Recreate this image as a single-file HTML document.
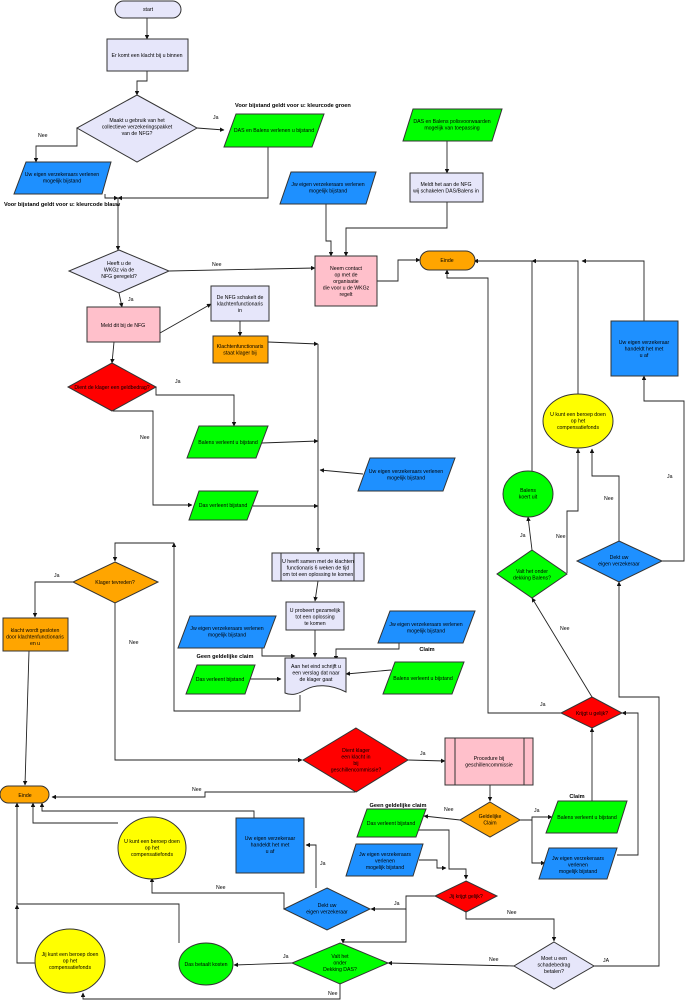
<!DOCTYPE html>
<html><head><meta charset="utf-8"><style>
html,body{margin:0;padding:0;background:#fff;}
svg{display:block;}
text{font-family:"Liberation Sans",sans-serif;font-size:5.2px;fill:#000;}
.b{font-weight:bold;font-size:5.6px;}
.s{stroke:#333;stroke-width:1;}
.l{fill:none;stroke:#222;stroke-width:0.9;}
</style></head><body>
<svg width="686" height="1000" viewBox="0 0 686 1000" xmlns="http://www.w3.org/2000/svg">
<defs><marker id="a" viewBox="0 0 10 10" refX="9" refY="5" markerWidth="5" markerHeight="5" orient="auto"><path d="M0,0L10,5L0,10z" fill="#111"/></marker></defs>

<g class="l" marker-end="url(#a)">
<path d="M147,18V39"/>
<path d="M147,71V81H137V95"/>
<path d="M197,128L224,130"/>
<path d="M77,128V146H36V162"/>
<path d="M268,147V198H118"/>
<path d="M105,194V198H118"/>
<path d="M118,198V250"/>
<path d="M169,271L315,268"/>
<path d="M326,204V241H331V256"/>
<path d="M447,141V173"/>
<path d="M447,202V228H346V256"/>
<path d="M377,281H398V260H420"/>
<path d="M644,321V261H582"/>
<path d="M578,394V261H532"/>
<path d="M532,472V261H474"/>
<path d="M562,713H488V278H447V270"/>
<path d="M119,293L122,307"/>
<path d="M160,333L211,304"/>
<path d="M240,321V336"/>
<path d="M268,342L318,344"/>
<path d="M318,344V552"/>
<path d="M114,342L112,363"/>
<path d="M156,387V395H234V426"/>
<path d="M262,443L318,441"/>
<path d="M113,411H153V505H192"/>
<path d="M253,506H318"/>
<path d="M363,474L320,470"/>
<path d="M318,581L315,601"/>
<path d="M315,630V657"/>
<path d="M262,632V656H295"/>
<path d="M250,679L281,679"/>
<path d="M399,643V649H336V660"/>
<path d="M391,670L346,674"/>
<path d="M300,695V711H174V543"/>
<path d="M174,543H115V561"/>
<path d="M73,582H35V617"/>
<path d="M29,651L25,785"/>
<path d="M115,603V760H302"/>
<path d="M408,760L445,761"/>
<path d="M490,785V801"/>
<path d="M460,820L424,816"/>
<path d="M520,820H532V817H552"/>
<path d="M532,820V863H545"/>
<path d="M592,801V728"/>
<path d="M617,855H638V713H622"/>
<path d="M592,697L532,598"/>
<path d="M532,550L528,517"/>
<path d="M567,573V511H578V449"/>
<path d="M619,541V476H592V449"/>
<path d="M662,561H684V401H644V376"/>
<path d="M594,966H659V697H619V582"/>
<path d="M417,830H449V869H466V879"/>
<path d="M419,860H437V868H446"/>
<path d="M435,896H406V909H371"/>
<path d="M406,909V942H343V943"/>
<path d="M466,912V919H554V941"/>
<path d="M514,966L388,963"/>
<path d="M292,963L234,965"/>
<path d="M340,984V999H83V993"/>
<path d="M179,943V904H17V803"/>
<path d="M35,963H17V905"/>
<path d="M316,888V845H306"/>
<path d="M254,818V811H42V803"/>
<path d="M118,823H33V803"/>
<path d="M284,909V893H152V878"/>
<path d="M355,792H205V797H52"/>
</g>

<g class="s">
<rect x="115" y="1" width="66" height="17" rx="8.5" fill="#E6E6FA"/>
<rect x="107" y="39" width="81" height="32" fill="#E6E6FA"/>
<polygon points="137,95 197,128 137,162 77,128" fill="#E6E6FA"/>
<polygon points="236,114 324,114 312,147 224,147" fill="#00FF00"/>
<polygon points="26,162 111,162 102,194 14,194" fill="#1E90FF"/>
<polygon points="119,250 169,271 119,293 69,271" fill="#E6E6FA"/>
<polygon points="291,172 376,172 366,204 280,204" fill="#1E90FF"/>
<polygon points="413,109 502,109 492,141 403,141" fill="#00FF00"/>
<rect x="410" y="173" width="73" height="29" fill="#E6E6FA"/>
<rect x="315" y="256" width="62" height="50" fill="#FFC0CB"/>
<rect x="420" y="251" width="55" height="19" rx="9.5" fill="#FFA500"/>
<rect x="87" y="307" width="73" height="35" fill="#FFC0CB"/>
<rect x="211" y="286" width="58" height="35" fill="#E6E6FA"/>
<rect x="213" y="336" width="55" height="27" fill="#FFA500"/>
<polygon points="112,363 156,387 112,411 68,387" fill="#FF0000"/>
<polygon points="199,426 268,426 256,458 187,458" fill="#00FF00"/>
<polygon points="199,491 258,491 247,520 189,520" fill="#00FF00"/>
<polygon points="370,458 455,458 443,491 358,491" fill="#1E90FF"/>
<rect x="611" y="321" width="67" height="55" fill="#1E90FF"/>
<ellipse cx="578" cy="421" rx="35" ry="27" fill="#FFFF00"/>
<ellipse cx="528" cy="494" rx="25" ry="23" fill="#00FF00"/>
<polygon points="532,550 567,574 532,598 497,574" fill="#00FF00"/>
<polygon points="619,541 662,561 619,582 577,561" fill="#1E90FF"/>
<rect x="272" y="553" width="92" height="28" fill="#E6E6FA"/>
<line x1="281" y1="553" x2="281" y2="581"/><line x1="354" y1="553" x2="354" y2="581"/>
<rect x="286" y="602" width="58" height="28" fill="#E6E6FA"/>
<path d="M285,658H346V692C330,684 315,684 305,690C298,694 292,696 285,693Z" fill="#E6E6FA"/>
<polygon points="190,616 276,616 264,648 178,648" fill="#1E90FF"/>
<polygon points="197,665 255,665 245,694 186,694" fill="#00FF00"/>
<polygon points="390,611 475,611 463,643 378,643" fill="#1E90FF"/>
<polygon points="395,662 464,662 452,694 383,694" fill="#00FF00"/>
<polygon points="115,562 158,582 115,603 73,582" fill="#FFA500"/>
<rect x="3" y="618" width="65" height="33" fill="#FFA500"/>
<polygon points="356,728 408,760 356,792 303,760" fill="#FF0000"/>
<rect x="445" y="738" width="88" height="47" fill="#FFC0CB"/>
<line x1="455" y1="738" x2="455" y2="785"/><line x1="524" y1="738" x2="524" y2="785"/>
<polygon points="592,697 622,713 592,728 561,713" fill="#FF0000"/>
<polygon points="490,802 520,820 490,837 460,820" fill="#FFA500"/>
<polygon points="367,809 426,809 416,837 357,837" fill="#00FF00"/>
<polygon points="558,801 627,801 617,833 546,833" fill="#00FF00"/>
<polygon points="549,848 617,848 607,879 539,879" fill="#1E90FF"/>
<polygon points="356,844 423,844 413,876 346,876" fill="#1E90FF"/>
<polygon points="466,881 497,896 466,912 435,896" fill="#FF0000"/>
<polygon points="554,942 594,966 554,989 514,966" fill="#E6E6FA"/>
<polygon points="340,943 388,963 340,984 292,963" fill="#00FF00"/>
<ellipse cx="206" cy="964" rx="27" ry="21" fill="#00FF00"/>
<ellipse cx="70" cy="961" rx="35" ry="32" fill="#FFFF00"/>
<polygon points="327,888 370,909 327,930 284,909" fill="#1E90FF"/>
<rect x="236" y="818" width="68" height="55" fill="#1E90FF"/>
<ellipse cx="152" cy="848" rx="34" ry="31" fill="#FFFF00"/>
<rect x="0" y="786" width="49" height="17" rx="8.5" fill="#FFA500"/>
</g>

<g text-anchor="middle">
<text x="148" y="11">start</text>
<text x="147" y="57">Er komt een klacht bij u  binnen</text>
<text x="137" y="122">Maakt u gebruik van het<tspan x="137" dy="6.5">collectieve verzekeringspakket</tspan><tspan x="137" dy="6.5">van de NFG?</tspan></text>
<text x="274" y="132">DAS en Balens verlenen u bijstand</text>
<text x="62" y="176">Uw eigen verzekeraars verlenen<tspan x="62" dy="6.5">mogelijk bijstand</tspan></text>
<text x="119" y="265">Heeft u de<tspan x="119" dy="6.5">WKGz via de</tspan><tspan x="119" dy="6.5">NFG geregeld?</tspan></text>
<text x="328" y="186">Jw eigen verzekeraars verlenen<tspan x="328" dy="6.5">mogelijk bijstand</tspan></text>
<text x="452" y="123">DAS en Balens polisvoorwaarden<tspan x="452" dy="6.5">mogelijk van toepassing</tspan></text>
<text x="446" y="186">Meldt het aan de NFG<tspan x="446" dy="6.5">wij schakelen DAS/Balens in</tspan></text>
<text x="346" y="270">Neem contact<tspan x="346" dy="6.5">op met de</tspan><tspan x="346" dy="6.5">organisatie</tspan><tspan x="346" dy="6.5">die voor u de WKGz</tspan><tspan x="346" dy="6.5">regelt</tspan></text>
<text x="447" y="262">Einde</text>
<text x="123" y="327">Meld dit bij de NFG</text>
<text x="240" y="299">De NFG schakelt de<tspan x="240" dy="6.5">klachtenfunctionaris</tspan><tspan x="240" dy="6.5">in</tspan></text>
<text x="240" y="348">Klachtenfunctionaris<tspan x="240" dy="6.5">staat klager bij</tspan></text>
<text x="112" y="389">Dient de klager een geldbedrag?</text>
<text x="228" y="444">Balens verleent u bijstand</text>
<text x="223" y="507">Das verleent bijstand</text>
<text x="406" y="473">Uw eigen verzekeraars verlenen<tspan x="406" dy="6.5">mogelijk bijstand</tspan></text>
<text x="644" y="344">Uw eigen verzekeraar<tspan x="644" dy="6.5">handeldt het  met</tspan><tspan x="644" dy="6.5">u af</tspan></text>
<text x="578" y="416">U kunt een beroep doen<tspan x="578" dy="6.5">op het</tspan><tspan x="578" dy="6.5">compensatiefonds</tspan></text>
<text x="528" y="492">Balens<tspan x="528" dy="6.5">koert uit</tspan></text>
<text x="532" y="573">Valt het onder<tspan x="532" dy="6.5">dekking Balens?</tspan></text>
<text x="619" y="559">Dekt uw<tspan x="619" dy="6.5">eigen verzekeraar</tspan></text>
<text x="318" y="563">U heeft samen met de klachten<tspan x="318" dy="6.5">functionaris 6 weken de tijd</tspan><tspan x="318" dy="6.5">om tot een oplossing te komen</tspan></text>
<text x="315" y="612">U probeert gezamelijk<tspan x="315" dy="6.5">tot een oplossing</tspan><tspan x="315" dy="6.5">te komen</tspan></text>
<text x="316" y="668">Aan het eind schrijft u<tspan x="316" dy="6.5">een verslag dat naar</tspan><tspan x="316" dy="6.5">de klager gaat</tspan></text>
<text x="227" y="630">Jw eigen verzekeraars verlenen<tspan x="227" dy="6.5">mogelijk bijstand</tspan></text>
<text x="220" y="681">Das verleent bijstand</text>
<text x="426" y="626">Jw eigen verzekeraars verlenen<tspan x="426" dy="6.5">mogelijk bijstand</tspan></text>
<text x="423" y="680">Balens verleent u bijstand</text>
<text x="115" y="584">Klager tevreden?</text>
<text x="35" y="632">klacht wordt gesloten<tspan x="35" dy="6.5">door klachtenfunctionaris</tspan><tspan x="35" dy="6.5">en u</tspan></text>
<text x="356" y="752">Dient klager<tspan x="356" dy="6.5">een klacht in</tspan><tspan x="356" dy="6.5">bij</tspan><tspan x="356" dy="6.5">geschillencommissie?</tspan></text>
<text x="489" y="760">Procedure bij<tspan x="489" dy="6.5">geschillencommissie</tspan></text>
<text x="592" y="715">Krijgt u gelijk?</text>
<text x="490" y="818">Geldelijke<tspan x="490" dy="6.5">Claim</tspan></text>
<text x="391" y="825">Das verleent bijstand</text>
<text x="587" y="819">Balens verleent u bijstand</text>
<text x="578" y="860">Jw eigen verzekeraars<tspan x="578" dy="6.5">verlenen</tspan><tspan x="578" dy="6.5">mogelijk bijstand</tspan></text>
<text x="385" y="856">Jw eigen verzekeraars<tspan x="385" dy="6.5">verlenen</tspan><tspan x="385" dy="6.5">mogelijk bijstand</tspan></text>
<text x="466" y="898">Jij krijgt gelijk?</text>
<text x="554" y="960">Moet u een<tspan x="554" dy="6.5">schadebedrag</tspan><tspan x="554" dy="6.5">betalen?</tspan></text>
<text x="340" y="958">Valt het<tspan x="340" dy="6.5">onder</tspan><tspan x="340" dy="6.5">Dekking DAS?</tspan></text>
<text x="206" y="966">Das betaalt kosten</text>
<text x="70" y="956">Jij kunt een beroep doen<tspan x="70" dy="6.5">op het</tspan><tspan x="70" dy="6.5">compensatiefonds</tspan></text>
<text x="327" y="907">Dekt uw<tspan x="327" dy="6.5">eigen verzekeraar</tspan></text>
<text x="270" y="840">Uw eigen verzekeraar<tspan x="270" dy="6.5">handeldt het  met</tspan><tspan x="270" dy="6.5">u af</tspan></text>
<text x="152" y="843">U kunt een beroep doen<tspan x="152" dy="6.5">op het</tspan><tspan x="152" dy="6.5">compensatiefonds</tspan></text>
<text x="25" y="797">Einde</text>
<text class="b" x="225" y="658">Geen geldelijke claim</text>
<text class="b" x="427" y="651">Claim</text>
<text class="b" x="398" y="807">Geen geldelijke claim</text>
<text class="b" x="577" y="798">Claim</text>
</g>
<text class="b" x="235" y="107">Voor bijstand geldt voor u: kleurcode groen</text>
<text class="b" x="4" y="206">Voor bijstand geldt voor u: kleurcode blauw</text>

<g>
<text x="213" y="119">Ja</text>
<text x="38" y="137">Nee</text>
<text x="212" y="266">Nee</text>
<text x="128" y="301">Ja</text>
<text x="175" y="383">Ja</text>
<text x="140" y="439">Nee</text>
<text x="520" y="537">Ja</text>
<text x="556" y="538">Nee</text>
<text x="604" y="500">Nee</text>
<text x="667" y="478">Ja</text>
<text x="560" y="630">Nee</text>
<text x="54" y="577">Ja</text>
<text x="129" y="644">Nee</text>
<text x="540" y="706">Ja</text>
<text x="420" y="755">Ja</text>
<text x="192" y="791">Nee</text>
<text x="444" y="811">Nee</text>
<text x="534" y="812">Ja</text>
<text x="320" y="865">Ja</text>
<text x="394" y="905">Ja</text>
<text x="507" y="914">Nee</text>
<text x="216" y="889">Nee</text>
<text x="489" y="961">Nee</text>
<text x="603" y="962">JA</text>
<text x="283" y="958">Ja</text>
<text x="328" y="995">Nee</text>
</g>
</svg>
</body></html>
